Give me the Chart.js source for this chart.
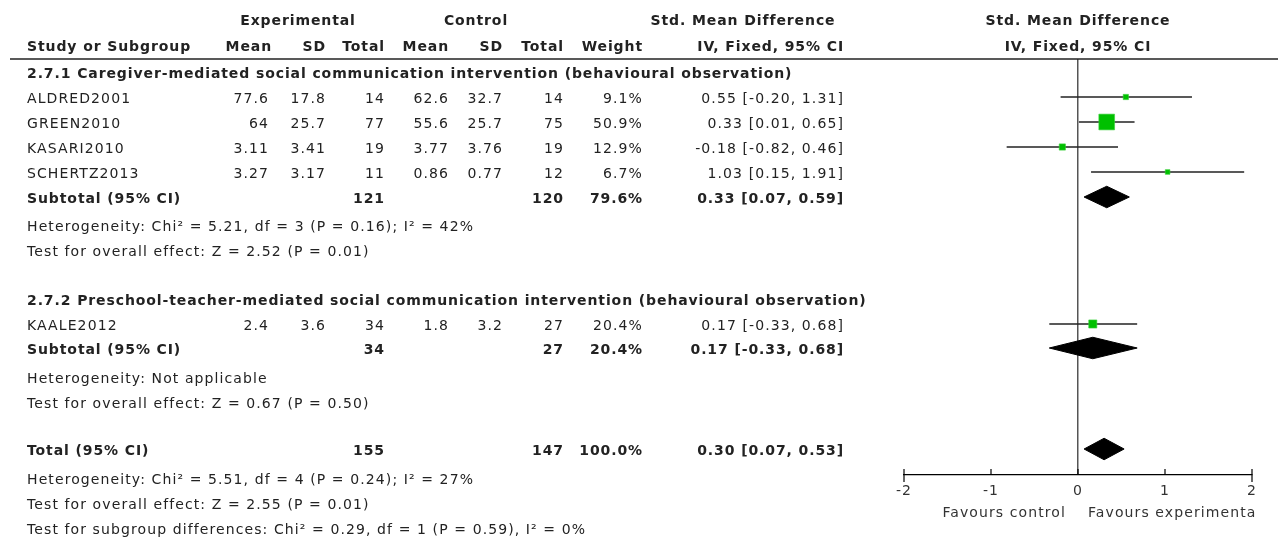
<!DOCTYPE html>
<html>
<head>
<meta charset="utf-8">
<title>Forest plot</title>
<script src="https://cdn.jsdelivr.net/npm/chart.js@4/dist/chart.umd.min.js"></script>
<style>
  html, body { margin: 0; padding: 0; background: #fff; }
  #wrap { width: 1278px; height: 540px; }
</style>
</head>
<body>
<div id="wrap"><canvas id="forest" width="1278" height="540"></canvas></div>
<script>
'use strict';

// ── STUDY DATA ──
const studies   = ['ALDRED2001', 'GREEN2010', 'KASARI2010', 'SCHERTZ2013', 'KAALE2012'];
const studyRow  = [1, 2, 3, 4, 10.08];
const expMean   = [77.6, 64, 3.11, 3.27, 2.4];
const expSD     = [17.8, 25.7, 3.41, 3.17, 3.6];
const expTotal  = [14, 77, 19, 11, 34];
const ctrlMean  = [62.6, 55.6, 3.77, 0.86, 1.8];
const ctrlSD    = [32.7, 25.7, 3.76, 0.77, 3.2];
const ctrlTotal = [14, 75, 19, 12, 27];
const weight    = [9.1, 50.9, 12.9, 6.7, 20.4];
const smd       = [0.55, 0.33, -0.18, 1.03, 0.17];
const ciLow     = [-0.20, 0.01, -0.82, 0.15, -0.33];
const ciHigh    = [1.31, 0.65, 0.46, 1.91, 0.68];

// ── POOLED (subtotals + total) ──
const poolLabel     = ['Subtotal (95% CI)', 'Subtotal (95% CI)', 'Total (95% CI)'];
const poolRow       = [5, 11.04, 15.08];
const poolExpTotal  = [121, 34, 155];
const poolCtrlTotal = [120, 27, 147];
const poolWeight    = [79.6, 20.4, 100.0];
const poolSmd       = [0.33, 0.17, 0.30];
const poolLow       = [0.07, -0.33, 0.07];
const poolHigh      = [0.59, 0.68, 0.53];

// ── TEXT ROWS ──
const groupTitles = [
  '2.7.1 Caregiver-mediated social communication intervention (behavioural observation)',
  '2.7.2 Preschool-teacher-mediated social communication intervention (behavioural observation)',
];
const groupRow = [0, 9.08];
const notes = [
  'Heterogeneity: Chi\u00b2 = 5.21, df = 3 (P = 0.16); I\u00b2 = 42%',
  'Test for overall effect: Z = 2.52 (P = 0.01)',
  'Heterogeneity: Not applicable',
  'Test for overall effect: Z = 0.67 (P = 0.50)',
  'Heterogeneity: Chi\u00b2 = 5.51, df = 4 (P = 0.24); I\u00b2 = 27%',
  'Test for overall effect: Z = 2.55 (P = 0.01)',
  'Test for subgroup differences: Chi\u00b2 = 0.29, df = 1 (P = 0.59), I\u00b2 = 0%',
];
const noteRow = [6.12, 7.12, 12.2, 13.2, 16.24, 17.24, 18.24];

const headerTop    = ['Experimental', 'Control', 'Std. Mean Difference', 'Std. Mean Difference'];
const headerBottom = ['Study or Subgroup', 'Mean', 'SD', 'Total', 'Mean', 'SD', 'Total', 'Weight', 'IV, Fixed, 95% CI', 'IV, Fixed, 95% CI'];
const headerRow    = [-2.12, -1.08];
const xTicks       = [-2, -1, 0, 1, 2];
const favours      = ['Favours control', 'Favours experimenta'];

// ── LAYOUT / STYLE ──
const FONT      = '"DejaVu Sans", "Liberation Sans", sans-serif';
const F_REG     = '14px ' + FONT;
const F_BOLD    = 'bold 14px ' + FONT;
const SP_REG    = '1.1px';
const SP_BOLD   = '0.9px';
const INK       = '#222';
const GREEN     = '#00c000';
// right edges of the numeric columns
const COL = { name: 27, eMean: 269, eSD: 326, eTot: 385, cMean: 449, cSD: 503, cTot: 564, wt: 643, ci: 844 };
const DIAMOND_H = 0.43;

const fmtCI = (e, l, h) => `${e.toFixed(2)} [${l.toFixed(2)}, ${h.toFixed(2)}]`;

// ── DATASETS ──
const datasets = [];

studies.forEach((s, i) => {
  datasets.push({
    label: s + ' CI',
    type: 'line',
    data: [{ x: ciLow[i], y: studyRow[i] }, { x: ciHigh[i], y: studyRow[i] }],
    borderColor: '#222',
    borderWidth: 1.3,
    pointRadius: 0,
    fill: false,
    order: 2,
  });
});

datasets.push({
  label: 'Studies',
  type: 'line',
  showLine: false,
  data: studies.map((s, i) => ({ x: smd[i], y: studyRow[i] })),
  pointStyle: 'rect',
  pointRadius: ctx => (3 + weight[ctx.dataIndex] * 0.25) / Math.SQRT2,
  pointBackgroundColor: GREEN,
  pointBorderColor: '#3ad13a',
  pointBorderWidth: 0.6,
  order: 1,
});

poolLabel.forEach((p, i) => {
  const r = poolRow[i];
  datasets.push({
    label: p,
    type: 'line',
    data: [
      { x: poolLow[i],  y: r },
      { x: poolSmd[i],  y: r - DIAMOND_H },
      { x: poolHigh[i], y: r },
      { x: poolSmd[i],  y: r + DIAMOND_H },
      { x: poolLow[i],  y: r },
    ],
    borderColor: '#000',
    borderWidth: 1,
    backgroundColor: '#000',
    pointRadius: 0,
    tension: 0,
    fill: 'shape',
    order: 1,
  });
});

// ── TEXT + AXIS DECORATION PLUGIN ──
const tablePlugin = {
  id: 'forestTable',
  beforeDraw(chart) {
    chart.ctx.letterSpacing = SP_REG;   // also picked up by the tick labels
  },
  afterDraw(chart) {
    const { ctx, chartArea, scales: { x, y } } = chart;
    const rowY = v => y.getPixelForValue(v) + 2;

    function txt(str, px, py, align, font) {
      ctx.font = font || F_REG;
      ctx.letterSpacing = font === F_BOLD ? SP_BOLD : SP_REG;
      ctx.textAlign = align || 'left';
      ctx.fillText(str, px, py);
    }

    ctx.save();
    ctx.fillStyle = INK;
    ctx.textBaseline = 'middle';

    // headers
    const h1 = rowY(headerRow[0]), h2 = rowY(headerRow[1]);
    const zeroPx = x.getPixelForValue(0);
    txt(headerTop[0], 298, h1, 'center', F_BOLD);
    txt(headerTop[1], 476, h1, 'center', F_BOLD);
    txt(headerTop[2], 743, h1, 'center', F_BOLD);
    txt(headerTop[3], zeroPx, h1, 'center', F_BOLD);
    txt(headerBottom[0], COL.name, h2, 'left', F_BOLD);
    txt(headerBottom[1], COL.eMean + 3, h2, 'right', F_BOLD);
    txt(headerBottom[2], COL.eSD, h2, 'right', F_BOLD);
    txt(headerBottom[3], COL.eTot, h2, 'right', F_BOLD);
    txt(headerBottom[4], COL.cMean, h2, 'right', F_BOLD);
    txt(headerBottom[5], COL.cSD, h2, 'right', F_BOLD);
    txt(headerBottom[6], COL.cTot, h2, 'right', F_BOLD);
    txt(headerBottom[7], COL.wt, h2, 'right', F_BOLD);
    txt(headerBottom[8], COL.ci, h2, 'right', F_BOLD);
    txt(headerBottom[9], zeroPx, h2, 'center', F_BOLD);

    // group titles
    groupTitles.forEach((g, i) => txt(g, COL.name, rowY(groupRow[i]), 'left', F_BOLD));

    // study rows
    studies.forEach((s, i) => {
      const py = rowY(studyRow[i]);
      txt(s, COL.name, py);
      txt(String(expMean[i]), COL.eMean, py, 'right');
      txt(String(expSD[i]), COL.eSD, py, 'right');
      txt(String(expTotal[i]), COL.eTot, py, 'right');
      txt(String(ctrlMean[i]), COL.cMean, py, 'right');
      txt(String(ctrlSD[i]), COL.cSD, py, 'right');
      txt(String(ctrlTotal[i]), COL.cTot, py, 'right');
      txt(weight[i].toFixed(1) + '%', COL.wt, py, 'right');
      txt(fmtCI(smd[i], ciLow[i], ciHigh[i]), COL.ci, py, 'right');
    });

    // pooled rows
    poolLabel.forEach((p, i) => {
      const py = rowY(poolRow[i]);
      txt(p, COL.name, py, 'left', F_BOLD);
      txt(String(poolExpTotal[i]), COL.eTot, py, 'right', F_BOLD);
      txt(String(poolCtrlTotal[i]), COL.cTot, py, 'right', F_BOLD);
      txt(poolWeight[i].toFixed(1) + '%', COL.wt, py, 'right', F_BOLD);
      txt(fmtCI(poolSmd[i], poolLow[i], poolHigh[i]), COL.ci, py, 'right', F_BOLD);
    });

    // heterogeneity / effect notes
    notes.forEach((n, i) => txt(n, COL.name, rowY(noteRow[i])));

    // favours labels
    const favY = chartArea.bottom + 38;
    ctx.fillStyle = '#333';
    txt(favours[0], zeroPx - 12, favY, 'right');
    txt(favours[1], zeroPx + 10, favY, 'left');

    // header rule
    ctx.strokeStyle = '#222';
    ctx.lineWidth = 1.6;
    ctx.beginPath();
    ctx.moveTo(10, chartArea.top);
    ctx.lineTo(1278, chartArea.top);
    ctx.stroke();

    // tick marks pointing up into the plot
    ctx.strokeStyle = '#000';
    ctx.lineWidth = 1.2;
    xTicks.forEach((t, i) => {
      const px = x.getPixelForValue(t);
      const isEnd = i === 0 || i === xTicks.length - 1;
      ctx.beginPath();
      ctx.moveTo(px, chartArea.bottom - 6);
      ctx.lineTo(px, chartArea.bottom + (isEnd ? 7 : 0));
      ctx.stroke();
    });
    ctx.restore();
  }
};

// ── CHART ──
new Chart(document.getElementById('forest').getContext('2d'), {
  type: 'line',
  data: { datasets },
  options: {
    responsive: false,
    animation: false,
    events: [],
    layout: { padding: { left: 904, right: 26, top: 59, bottom: 0 } },
    plugins: { legend: { display: false }, tooltip: { enabled: false } },
    scales: {
      x: {
        type: 'linear',
        min: -2,
        max: 2,
        afterFit: s => { s.height = 65; },
        afterBuildTicks: s => { s.ticks = xTicks.map(v => ({ value: v })); },
        grid: {
          drawTicks: false,
          color: c => (c.tick && c.tick.value === 0 ? '#555' : 'rgba(0,0,0,0)'),
          lineWidth: 1.5,
        },
        border: { display: true, color: '#000', width: 1.2 },
        ticks: { color: '#333', font: { family: FONT, size: 14 }, padding: 8, maxRotation: 0 },
      },
      y: {
        type: 'linear',
        display: false,
        reverse: true,
        min: -0.52,
        max: 16.12,
      }
    }
  },
  plugins: [tablePlugin]
});
</script>
</body>
</html>
